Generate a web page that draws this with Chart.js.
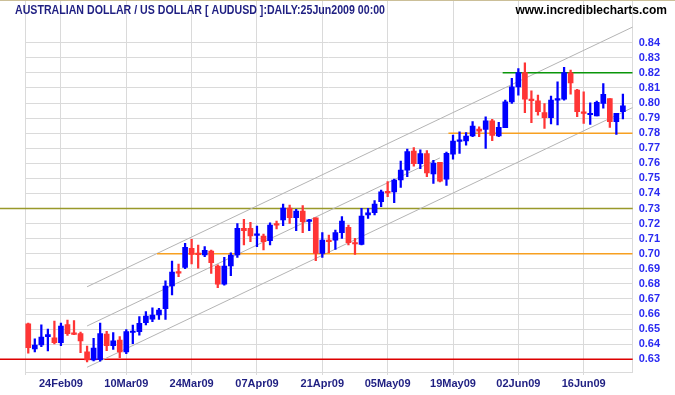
<!DOCTYPE html>
<html>
<head>
<meta charset="utf-8">
<script src="https://cdn.jsdelivr.net/npm/chart.js@4.4.0/dist/chart.umd.min.js"></script>
<style>
    html, body { margin: 0; padding: 0; background: #fff; }
    canvas { display: block; }
</style>
</head>
<body>
<canvas id="audChart" width="675" height="395"></canvas>
<script>
// ── Data ──
const dates = [
    '17Feb09', '18Feb09', '19Feb09', '20Feb09', '23Feb09', '24Feb09', '25Feb09', '26Feb09', '27Feb09',
    '02Mar09', '03Mar09', '04Mar09', '05Mar09', '06Mar09', '09Mar09', '10Mar09', '11Mar09', '12Mar09', '13Mar09', '16Mar09',
    '17Mar09', '18Mar09', '19Mar09', '20Mar09', '23Mar09', '24Mar09', '25Mar09', '26Mar09', '27Mar09', '30Mar09', '31Mar09',
    '01Apr09', '02Apr09', '03Apr09', '06Apr09', '07Apr09', '08Apr09', '09Apr09', '10Apr09', '13Apr09', '14Apr09', '15Apr09',
    '16Apr09', '17Apr09', '20Apr09', '21Apr09', '22Apr09', '23Apr09', '24Apr09', '27Apr09', '28Apr09', '29Apr09', '30Apr09',
    '01May09', '04May09', '05May09', '06May09', '07May09', '08May09', '11May09', '12May09', '13May09', '14May09', '15May09',
    '18May09', '19May09', '20May09', '21May09', '22May09', '25May09', '26May09', '27May09', '28May09', '29May09',
    '01Jun09', '02Jun09', '03Jun09', '04Jun09', '05Jun09', '08Jun09', '09Jun09', '10Jun09', '11Jun09', '12Jun09',
    '15Jun09', '16Jun09', '17Jun09', '18Jun09', '19Jun09', '22Jun09', '23Jun09', '24Jun09', '25Jun09'
];

const openPx = [
    0.6535, 0.6369, 0.6395, 0.6450, 0.6442, 0.6411, 0.6530, 0.6470, 0.6470,
    0.6349, 0.6296, 0.6298, 0.6468, 0.6391, 0.6428, 0.6349, 0.6478, 0.6483, 0.6543, 0.6567,
    0.6594, 0.6636, 0.6786, 0.6879, 0.6910, 0.7036, 0.7000, 0.6992, 0.7018, 0.6919, 0.6799,
    0.6919, 0.6992, 0.7169, 0.7169, 0.7122, 0.7118, 0.7087, 0.7195, 0.7224, 0.7303, 0.7239,
    0.7283, 0.7215, 0.7239, 0.7003, 0.7091, 0.7090, 0.7140, 0.7175, 0.7069, 0.7062, 0.7257,
    0.7272, 0.7345, 0.7408, 0.7411, 0.7489, 0.7555, 0.7681, 0.7598, 0.7664, 0.7530, 0.7606,
    0.7494, 0.7661, 0.7745, 0.7748, 0.7781, 0.7827, 0.7825, 0.7882, 0.7781, 0.7836,
    0.8008, 0.8107, 0.8202, 0.8026, 0.8015, 0.7937, 0.7902, 0.8019, 0.8026, 0.8200,
    0.8085, 0.7942, 0.7922, 0.7915, 0.7997, 0.8030, 0.7876, 0.7943
];
const highPx = [
    0.6540, 0.6435, 0.6528, 0.6500, 0.6554, 0.6541, 0.6561, 0.6557, 0.6481,
    0.6388, 0.6439, 0.6541, 0.6486, 0.6477, 0.6450, 0.6497, 0.6527, 0.6583, 0.6616, 0.6642,
    0.6638, 0.6821, 0.6952, 0.6932, 0.7069, 0.7095, 0.7058, 0.7047, 0.7025, 0.6927, 0.6976,
    0.7007, 0.7201, 0.7228, 0.7208, 0.7184, 0.7131, 0.7206, 0.7217, 0.7330, 0.7323, 0.7294,
    0.7319, 0.7228, 0.7239, 0.7140, 0.7124, 0.7157, 0.7246, 0.7190, 0.7102, 0.7301, 0.7301,
    0.7352, 0.7422, 0.7478, 0.7495, 0.7615, 0.7695, 0.7705, 0.7690, 0.7685, 0.7619, 0.7606,
    0.7675, 0.7788, 0.7809, 0.7803, 0.7876, 0.7842, 0.7909, 0.7891, 0.7871, 0.8019,
    0.8163, 0.8229, 0.8267, 0.8081, 0.8052, 0.7997, 0.8046, 0.8141, 0.8236, 0.8218,
    0.8090, 0.8074, 0.8001, 0.8013, 0.8129, 0.8030, 0.7931, 0.8059
];
const lowPx = [
    0.6340, 0.6349, 0.6384, 0.6355, 0.6402, 0.6391, 0.6459, 0.6464, 0.6344,
    0.6282, 0.6289, 0.6287, 0.6358, 0.6366, 0.6311, 0.6338, 0.6403, 0.6460, 0.6528, 0.6549,
    0.6565, 0.6565, 0.6727, 0.6848, 0.6901, 0.6932, 0.6905, 0.6981, 0.6870, 0.6775, 0.6792,
    0.6854, 0.6976, 0.7058, 0.7080, 0.7047, 0.7025, 0.7058, 0.7164, 0.7186, 0.7202, 0.7153,
    0.7140, 0.7153, 0.6954, 0.6976, 0.7007, 0.7029, 0.7102, 0.7058, 0.6996, 0.7058, 0.7235,
    0.7257, 0.7312, 0.7378, 0.7339, 0.7440, 0.7511, 0.7581, 0.7565, 0.7511, 0.7467, 0.7477,
    0.7454, 0.7628, 0.7666, 0.7721, 0.7776, 0.7776, 0.7699, 0.7750, 0.7776, 0.7836,
    0.7997, 0.8052, 0.7936, 0.7869, 0.7920, 0.7831, 0.7861, 0.7854, 0.8019, 0.8059,
    0.7909, 0.7865, 0.7858, 0.7915, 0.7965, 0.7838, 0.7791, 0.7894
];
const closePx = [
    0.6377, 0.6395, 0.6448, 0.6464, 0.6411, 0.6521, 0.6470, 0.6465, 0.6422,
    0.6296, 0.6375, 0.6470, 0.6391, 0.6422, 0.6349, 0.6484, 0.6484, 0.6539, 0.6587, 0.6594,
    0.6627, 0.6786, 0.6879, 0.6872, 0.7042, 0.6996, 0.6994, 0.7023, 0.6941, 0.6799, 0.6919,
    0.6992, 0.7169, 0.7153, 0.7118, 0.7129, 0.7080, 0.7190, 0.7190, 0.7303, 0.7239, 0.7283,
    0.7213, 0.7224, 0.7003, 0.7091, 0.7080, 0.7140, 0.7217, 0.7073, 0.7065, 0.7250, 0.7272,
    0.7330, 0.7411, 0.7404, 0.7489, 0.7555, 0.7677, 0.7598, 0.7664, 0.7536, 0.7601, 0.7482,
    0.7666, 0.7748, 0.7748, 0.7781, 0.7847, 0.7814, 0.7882, 0.7785, 0.7838, 0.8008,
    0.8107, 0.8202, 0.8026, 0.8015, 0.7942, 0.7902, 0.8019, 0.8026, 0.8202, 0.8134,
    0.7942, 0.7931, 0.7925, 0.8004, 0.8057, 0.7876, 0.7931, 0.7982
];

const priceTicks = [0.63, 0.64, 0.65, 0.66, 0.67, 0.68, 0.69, 0.70, 0.71, 0.72, 0.73,
                    0.74, 0.75, 0.76, 0.77, 0.78, 0.79, 0.80, 0.81, 0.82, 0.83, 0.84];
const dateTicks = ['24Feb09', '10Mar09', '24Mar09', '07Apr09', '21Apr09', '05May09', '19May09', '02Jun09', '16Jun09'];

// trend channel (start / end as day index, price)
const channelFrom = [9, 9, 9];
const channelTo = [92.5, 63, 92.5];
const channelFromPx = [0.6781, 0.6521, 0.6247];
const channelToPx = [0.8504, 0.7636, 0.7970];

// support / resistance
const fullLevels = [0.63, 0.73];
const partLevels = [0.70, 0.78, 0.82];
const partLevelFrom = [19.7, 64.3, 72.6];

// ── Styles ──
const UP = '#0000ff';
const DOWN = '#ff3535';
const GRID = '#dadada';
const FONT = "'Liberation Sans', Arial, sans-serif";
const fullLevelColors = ['#dd0000', '#99992a'];
const partLevelColors = ['#f7a021', '#f7a021', '#0a960a'];

const candleColor = (ctx) => closePx[ctx.dataIndex] >= openPx[ctx.dataIndex] ? UP : DOWN;

const bodies = openPx.map((o, i) => ({ x: i, y: [o, closePx[i]] }));
const wicks = lowPx.map((l, i) => ({ x: i, y: [l, highPx[i]] }));

const channelSets = channelFrom.map((f, i) => ({
    type: 'line',
    data: [{ x: f, y: channelFromPx[i] }, { x: channelTo[i], y: channelToPx[i] }],
    borderColor: '#b4b4b4',
    borderWidth: 1,
    pointRadius: 0,
    order: 5
}));

const levelSets = partLevels.map((v, i) => ({
    type: 'line',
    data: [{ x: partLevelFrom[i], y: v }, { x: dates.length - 0.5, y: v }],
    borderColor: partLevelColors[i],
    borderWidth: 1.5,
    pointRadius: 0,
    order: 4
}));

// full-width levels run into the left margin, like the original
const fullLevelPlugin = {
    id: 'fullLevels',
    beforeDatasetsDraw(chart) {
        const { ctx, chartArea, scales } = chart;
        ctx.save();
        fullLevels.forEach((v, i) => {
            const y = scales.y.getPixelForValue(v);
            ctx.strokeStyle = fullLevelColors[i];
            ctx.lineWidth = 1.5;
            ctx.beginPath();
            ctx.moveTo(0, y);
            ctx.lineTo(chartArea.right, y);
            ctx.stroke();
        });
        ctx.restore();
    }
};

const headerPlugin = {
    id: 'header',
    beforeDraw(chart) {
        const { ctx, width, height } = chart;
        ctx.save();
        ctx.fillStyle = '#fff';
        ctx.fillRect(0, 0, width, height);
        ctx.restore();
    },
    afterDraw(chart) {
        const { ctx, width } = chart;
        const title = 'AUSTRALIAN DOLLAR / US DOLLAR [ AUDUSD ]:DAILY:25Jun2009 00:00';
        ctx.save();
        ctx.fillStyle = '#cbbf98';
        ctx.fillRect(0, 0, width, 1);
        ctx.textBaseline = 'alphabetic';
        ctx.textAlign = 'left';
        ctx.fillStyle = '#1f1f82';
        ctx.font = 'bold 12px ' + FONT;
        // the original face is a narrow one: squeeze to its width
        const squeeze = 370 / ctx.measureText(title).width;
        ctx.save();
        ctx.translate(15, 14);
        ctx.scale(squeeze, 1);
        ctx.fillText(title, 0, 0);
        ctx.restore();
        ctx.fillStyle = '#000';
        ctx.textAlign = 'right';
        ctx.fillText('www.incrediblecharts.com', 667, 14);
        ctx.restore();
    }
};

new Chart(document.getElementById('audChart'), {
    type: 'bar',
    data: {
        datasets: [
            {
                label: 'Body',
                data: bodies,
                backgroundColor: candleColor,
                barThickness: 5,
                minBarLength: 1.5,
                grouped: false,
                order: 0
            },
            {
                label: 'Range',
                data: wicks,
                backgroundColor: candleColor,
                barThickness: 1.6,
                grouped: false,
                order: 1
            },
            ...levelSets,
            ...channelSets
        ]
    },
    options: {
        responsive: false,
        animation: false,
        layout: { padding: { left: 25, top: 0, right: 0, bottom: 0 } },
        plugins: {
            legend: { display: false },
            tooltip: { enabled: false }
        },
        scales: {
            x: {
                type: 'linear',
                offset: false,
                min: -0.5,
                max: dates.length - 0.5,
                afterBuildTicks: (s) => {
                    s.ticks = [{ value: -0.5 }].concat(dateTicks.map(d => ({ value: dates.indexOf(d) })));
                },
                afterFit: (s) => { s.height = 23; s.paddingLeft = 0; s.paddingRight = 0; },
                grid: { color: GRID, tickLength: 3, tickColor: GRID, offset: false },
                border: { display: true, color: GRID },
                ticks: {
                    autoSkip: false,
                    maxRotation: 0,
                    padding: 2,
                    color: '#1f1f82',
                    font: { family: FONT, size: 11, weight: 'bold' },
                    callback: (v) => dates[v] || ''
                }
            },
            y: {
                position: 'right',
                min: 0.62158,
                max: 0.86832,
                afterBuildTicks: (s) => { s.ticks = priceTicks.map(v => ({ value: v })); },
                afterFit: (s) => { s.width = 42.3; s.paddingTop = 0; s.paddingBottom = 0; },
                grid: { color: GRID, drawTicks: false },
                border: { display: true, color: GRID },
                ticks: {
                    padding: 6,
                    color: '#2a2af2',
                    font: { family: FONT, size: 11, weight: 'bold' },
                    callback: (v) => v.toFixed(2)
                }
            }
        }
    },
    plugins: [headerPlugin, fullLevelPlugin]
});
</script>
</body>
</html>
